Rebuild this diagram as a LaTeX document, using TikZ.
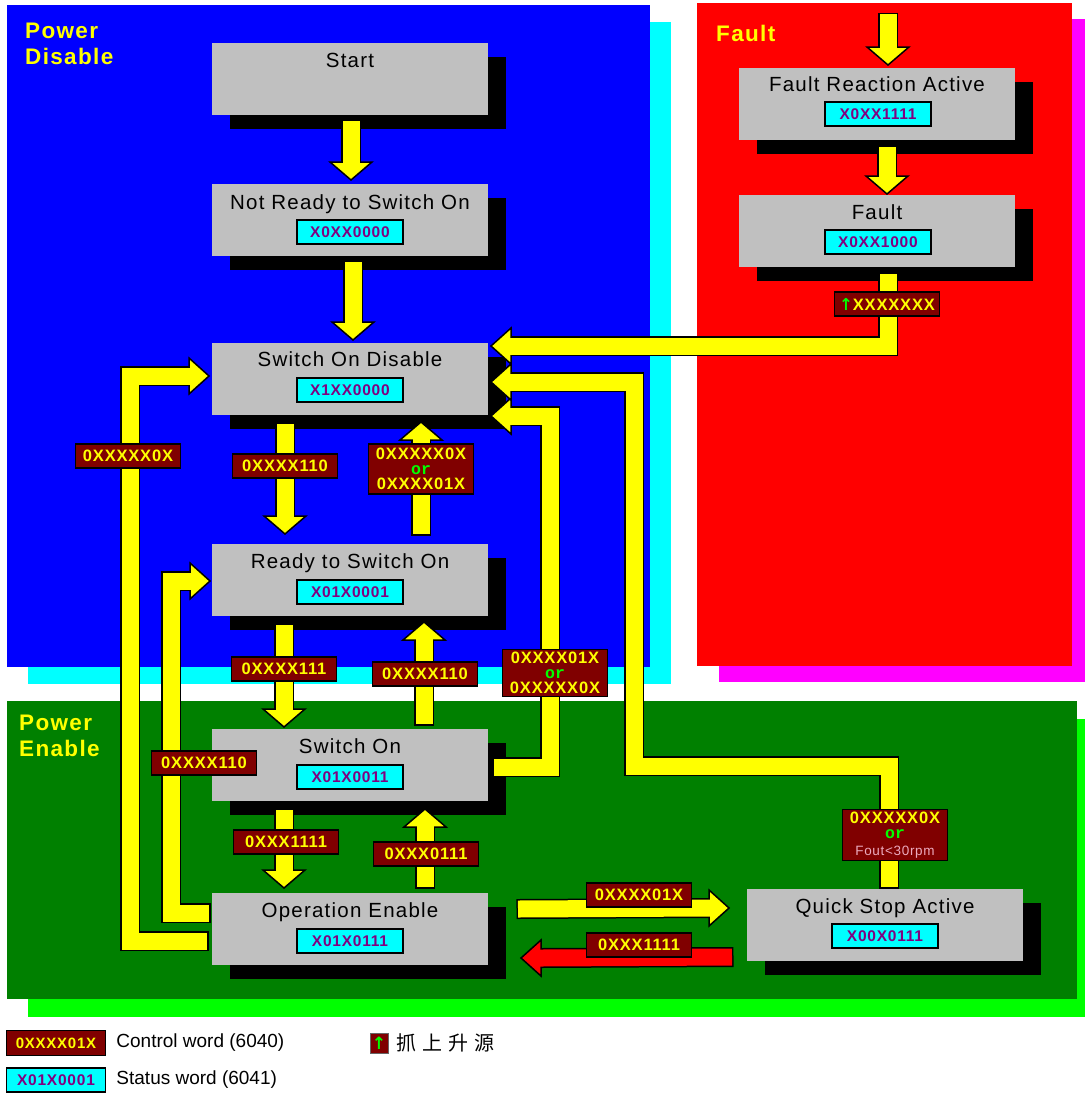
\documentclass[tikz,border=0pt]{standalone}
\usepackage{fontspec}
\setmainfont{Liberation Sans}
\setmonofont{Liberation Mono}
\newfontfamily\titlefont[LetterSpace=6]{Liberation Sans}
\newfontfamily\codefont[LetterSpace=5]{Liberation Sans}
\newfontfamily\cjkfont{Noto Sans CJK SC}
\newfontfamily\arrowfont{DejaVu Sans}
\usetikzlibrary{positioning,calc,shadows}

\definecolor{pdblue}{RGB}{0,0,255}
\definecolor{pdshade}{RGB}{0,255,255}
\definecolor{fltred}{RGB}{255,0,0}
\definecolor{fltshade}{RGB}{255,0,255}
\definecolor{pwrgreen}{RGB}{0,128,0}
\definecolor{limeshade}{RGB}{0,255,0}
\definecolor{arrowyellow}{RGB}{255,255,0}
\definecolor{maroonbox}{RGB}{128,0,0}
\definecolor{graybox}{RGB}{192,192,192}
\definecolor{statcyan}{RGB}{0,255,255}
\definecolor{codepurple}{RGB}{128,0,128}
\definecolor{orgreen}{RGB}{0,255,0}
\definecolor{foutpink}{RGB}{235,170,190}

\newcommand{\orword}{{\ttfamily\bfseries\color{orgreen}or}}
\newcommand{\uparr}{{\arrowfont\bfseries\color{orgreen}↑}}
% block arrow: outline, head, filling
\newcommand{\flow}[3][arrowyellow]{%
  \draw[shaftbg] #2;
  \filldraw[tiphead=#1] #3;
  \draw[shaftfg=#1] #2;}

\tikzset{
  state/.style={rectangle, fill=graybox, minimum width=276pt, minimum height=72pt,
    inner sep=0pt, outer sep=0pt,
    drop shadow={shadow xshift=18pt, shadow yshift=-14pt, fill=black, opacity=1}},
  stitle/.style={anchor=base, inner sep=0pt, font=\titlefont\fontsize{20.5}{24}\selectfont},
  status/.style={rectangle, fill=statcyan, draw=black, line width=1.5pt, minimum width=106pt,
    minimum height=24pt, inner sep=0pt, text=codepurple,
    font=\codefont\bfseries\fontsize{15.5}{15}\selectfont},
  ctrl/.style={rectangle, fill=maroonbox, draw=black, line width=1.5pt, minimum width=105pt,
    minimum height=24pt, inner sep=0pt, text=arrowyellow, align=center,
    font=\codefont\bfseries\fontsize{16.5}{15}\selectfont},
  shaftbg/.style={draw=black, line width=20pt, shorten <=-1.5pt},
  shaftfg/.style={draw=#1, line width=17pt, shorten >=-2pt},
  shaftfg/.default=arrowyellow,
  tiphead/.style={fill=#1, draw=black, line width=1.5pt},
  tiphead/.default=arrowyellow,
  zonetext/.style={anchor=north west, inner sep=0pt, align=left, text=arrowyellow,
    font=\titlefont\bfseries\fontsize{22.5}{26}\selectfont},
  keytext/.style={inner sep=0pt, font=\fontsize{19}{19}\selectfont}
}

\begin{document}
\begin{tikzpicture}[x=1pt,y=-1pt]
\useasboundingbox (0,0) rectangle (1085,1093);

% zones
\fill[pdshade] (28,22) rectangle (671,684);
\fill[fltshade] (719,19) rectangle (1085,682);
\fill[limeshade] (28,719) rectangle (1085,1017);
\fill[pdblue] (7,5) rectangle (650,667);
\fill[fltred] (697,3) rectangle (1072,666);
\fill[pwrgreen] (7,701) rectangle (1077,999);
\node[zonetext] (pdis) at (25,23) {Power\\Disable};
\node[zonetext] (ftxt) at (716,25) {Fault};
\node[zonetext] (pena) at (19,715) {Power\\Enable};

% states
\node[state] (start) at (350,79) {};
\node[state, below=69pt of start] (nrd) {};
\node[state, below=87pt of nrd] (sod) {};
\node[state, below=129pt of sod] (rso) {};
\node[state, below=113pt of rso] (son) {};
\node[state, below=92pt of son] (oen) {};
\node[state] (qsa) at (885,925) {};
\node[state] (fra) at (877,104) {};
\node[state, below=55pt of fra] (flt) {};

\node[stitle] (startt) at ($(start.north)+(0,24)$) {Start};
\node[stitle] (nrdt) at ($(nrd.north)+(0,25)$) {Not Ready to Switch On};
\node[stitle] (sodt) at ($(sod.north)+(0,23)$) {Switch On Disable};
\node[stitle] (rsot) at ($(rso.north)+(0,24)$) {Ready to Switch On};
\node[stitle] (sont) at ($(son.north)+(0,24)$) {Switch On};
\node[stitle] (oent) at ($(oen.north)+(0,24)$) {Operation Enable};
\node[stitle] (qsat) at ($(qsa.north)+(0,24)$) {Quick Stop Active};
\node[stitle] (frat) at ($(fra.north)+(0,23)$) {Fault Reaction Active};
\node[stitle] (fltt) at ($(flt.north)+(0,24)$) {Fault};

\node[status] (nrds) at ($(nrd.center)+(0,12)$) {X0XX0000};
\node[status] (sods) at ($(sod.center)+(0,11)$) {X1XX0000};
\node[status] (rsos) at ($(rso.center)+(0,12)$) {X01X0001};
\node[status] (sons) at ($(son.center)+(0,12)$) {X01X0011};
\node[status] (oens) at ($(oen.center)+(0,12)$) {X01X0111};
\node[status] (qsas) at ($(qsa.center)+(0,11)$) {X00X0111};
\node[status] (fras) at ($(fra.center)+(1,10)$) {X0XX1111};
\node[status] (flts) at ($(flt.center)+(1,11)$) {X0XX1000};

% transitions
\coordinate (faultin) at (888,14);
\coordinate (qsbend) at (634,766);
\flow{($(start.south)+(1,6)$) -- ($(nrd.north)+(1,-22)$)}
  {($(nrd.north)+(1,-4)$) -- ++(-21,-18) -- ++(42,0) -- cycle}
\flow{($(nrd.south)+(3,6)$) -- ($(sod.north)+(3,-21)$)}
  {($(sod.north)+(3,-3)$) -- ++(-21,-18) -- ++(42,0) -- cycle}
\flow{($(sod.south)+(-65,9)$) -- ($(rso.north)+(-65,-28)$)}
  {($(rso.north)+(-65,-10)$) -- ++(-21,-18) -- ++(42,0) -- cycle}
\flow{($(rso.north)+(71,-10)$) -- ($(sod.south)+(71,25)$)}
  {($(sod.south)+(71,7)$) -- ++(-21,18) -- ++(42,0) -- cycle}
\flow{($(rso.south)+(-66,9)$) -- ($(son.north)+(-66,-20)$)}
  {($(son.north)+(-66,-2)$) -- ++(-21,-18) -- ++(42,0) -- cycle}
\flow{($(son.north)+(74,-5)$) -- ($(rso.south)+(74,24)$)}
  {($(rso.south)+(74,6)$) -- ++(-21,18) -- ++(42,0) -- cycle}
\flow{($(son.south)+(-66,9)$) -- ($(oen.north)+(-66,-23)$)}
  {($(oen.north)+(-66,-5)$) -- ++(-21,-18) -- ++(42,0) -- cycle}
\flow{($(oen.north)+(75,-6)$) -- ($(son.south)+(75,26)$)}
  {($(son.south)+(75,8)$) -- ++(-21,18) -- ++(42,0) -- cycle}
\flow{($(oen.west)+(-5,12)$) -| ($(sod.west)+(-82,-3)$) -- ($(sod.west)+(-23,-3)$)}
  {($(sod.west)+(-3,-3)$) -- ++(-20,-18) -- ++(0,36) -- cycle}
\flow{($(oen.west)+(-3,-16)$) -| ($(rso.west)+(-41,1)$) -- ($(rso.west)+(-22,1)$)}
  {($(rso.west)+(-2,1)$) -- ++(-20,-18) -- ++(0,36) -- cycle}
\flow{($(son.east)+(6,2)$) -| ($(sod.east)+(62,37)$) -- ($(sod.east)+(24,37)$)}
  {($(sod.east)+(3,37)$) -- ++(20,-18) -- ++(0,36) -- cycle}
\flow{($(qsa.north)+(4,-2)$) |- (qsbend) |- ($(sod.east)+(24,3)$)}
  {($(sod.east)+(3,3)$) -- ++(20,-18) -- ++(0,36) -- cycle}
\flow{($(flt.south)+(11,7)$) |- ($(sod.east)+(24,-33)$)}
  {($(sod.east)+(3,-33)$) -- ++(20,-18) -- ++(0,36) -- cycle}
\flow{(faultin) -- ($(fra.north)+(11,-21)$)}
  {($(fra.north)+(11,-3)$) -- ++(-21,-18) -- ++(42,0) -- cycle}
\flow{($(fra.south)+(10,7)$) -- ($(flt.north)+(10,-19)$)}
  {($(flt.north)+(10,-1)$) -- ++(-21,-18) -- ++(42,0) -- cycle}
\flow{($(oen.east)+(30,-20)$) -- ($(qsa.west)+(-38,-17)$)}
  {($(qsa.west)+(-18,-17)$) -- ++(-20,-18) -- ++(0,36) -- cycle}
\flow[fltred]{($(qsa.west)+(-15,32)$) -- ($(oen.east)+(53,29)$)}
  {($(oen.east)+(33,29)$) -- ++(20,-18) -- ++(0,36) -- cycle}

% control words
\node[ctrl] (c3) at (285,466) {0XXXX110};
\node[ctrl, minimum height=50pt] (c4) at (421,469) {0XXXXX0X\\\orword\\0XXXX01X};
\node[ctrl] (c5) at (284,669) {0XXXX111};
\node[ctrl] (c6) at (425,674) {0XXXX110};
\node[ctrl] (c7) at (286,842) {0XXX1111};
\node[ctrl] (c8) at (426,854) {0XXX0111};
\node[ctrl] (c9) at (128,456) {0XXXXX0X};
\node[ctrl] (c10) at (204,763) {0XXXX110};
\node[ctrl, minimum height=47pt] (c11) at (555,673) {0XXXX01X\\\orword\\0XXXXX0X};
\node[ctrl, minimum height=51pt] (c12) at (895,835)
  {0XXXXX0X\\\orword\\[2pt]{\mdseries\fontsize{13.5}{13}\selectfont\color{foutpink}Fout<30rpm}};
\node[ctrl] (c13) at (887,304) {\uparr XXXXXXX};
\node[ctrl] (c16) at (639,895) {0XXXX01X};
\node[ctrl] (c17) at (639,945) {0XXX1111};

% legend
\node[ctrl, minimum width=99pt, minimum height=25pt, font=\codefont\bfseries\fontsize{15}{15}\selectfont] (keyctrl) at (56,1043) {0XXXX01X};
\node[keytext, right=10pt of keyctrl] (keyctrlt) {Control word (6040)};
\node[status, minimum width=99pt] (keystat) at (56,1080) {X01X0001};
\node[keytext, right=10pt of keystat] (keystatt) {Status word (6041)};
\node[fill=maroonbox, draw=black!60, minimum width=18pt, minimum height=20pt, inner sep=0pt,
  font=\fontsize{17}{17}\selectfont] (keyup) at (379,1043) {\uparr};
\node[keytext, right=8pt of keyup, font=\cjkfont\fontsize{20}{20}\selectfont] (keyupt)
  {抓\hspace{6pt}上\hspace{6pt}升\hspace{6pt}源};
\end{tikzpicture}
\end{document}
